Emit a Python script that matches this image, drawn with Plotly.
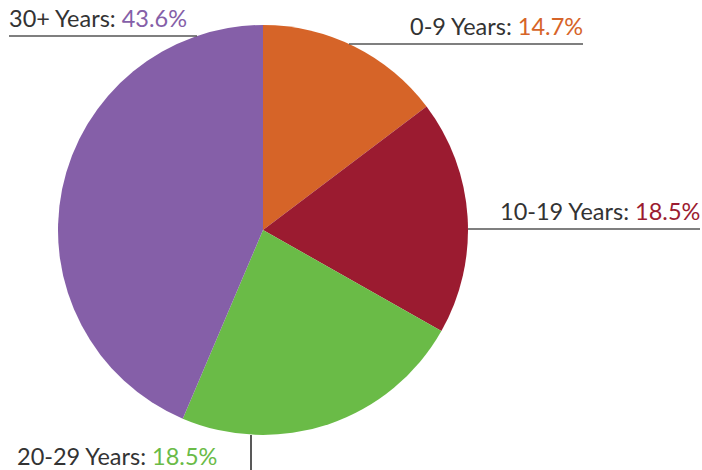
import plotly.graph_objects as go

categories = ["0-9 Years", "10-19 Years", "20-29 Years", "30+ Years"]
values = [14.7, 18.5, 23.2, 43.6]
shown_pct = ["14.7%", "18.5%", "18.5%", "43.6%"]
colors = ["#D66428", "#9B1B30", "#6ABB47", "#855FA8"]

W, H = 702, 470

def px(x):
    return x / W

def py(y):
    return 1 - y / H

fig = go.Figure(go.Pie(
    labels=categories, values=values, sort=False, direction="clockwise",
    rotation=0, marker=dict(colors=colors, line=dict(width=0)),
    textinfo="none", hoverinfo="label+percent", showlegend=False,
    domain=dict(x=[px(58), px(468)], y=[py(435), py(25)]),
))

FONT = "Lato"
FS = 23.5
TXT = "#333333"
LINE = "#555555"

def lab(i):
    return f"<span style='color:{TXT}'>{categories[i]}: </span><span style='color:{colors[i]}'>{shown_pct[i]}</span>"

shapes = [
    dict(type="line", xref="paper", yref="paper", x0=px(9), x1=px(197), y0=py(36), y1=py(36), line=dict(color=LINE, width=1.5)),
    dict(type="line", xref="paper", yref="paper", x0=px(349), x1=px(583), y0=py(44), y1=py(44), line=dict(color=LINE, width=1.5)),
    dict(type="line", xref="paper", yref="paper", x0=px(468), x1=px(700), y0=py(229), y1=py(229), line=dict(color=LINE, width=1.5)),
    dict(type="line", xref="paper", yref="paper", x0=px(251), x1=px(251), y0=py(435), y1=py(470), line=dict(color="#222222", width=1.5)),
]

annotations = [
    dict(text=lab(3), x=px(7), y=py(34), xanchor="left", yanchor="bottom"),
    dict(text=lab(0), x=px(585), y=py(42), xanchor="right", yanchor="bottom"),
    dict(text=lab(1), x=px(702), y=py(227), xanchor="right", yanchor="bottom"),
    dict(text=lab(2), x=px(15), y=py(456), xanchor="left", yanchor="middle"),
]
for a in annotations:
    a.update(xref="paper", yref="paper", showarrow=False, font=dict(family=FONT, size=FS, color=TXT))

fig.update_layout(
    width=W, height=H, margin=dict(l=0, r=0, t=0, b=0),
    paper_bgcolor="white", plot_bgcolor="white",
    shapes=shapes, annotations=annotations,
)

fig.write_html(
    "out.html",
    config={"displayModeBar": False},
    post_script="document.body.style.margin='0';document.body.style.overflow='hidden';",
)
